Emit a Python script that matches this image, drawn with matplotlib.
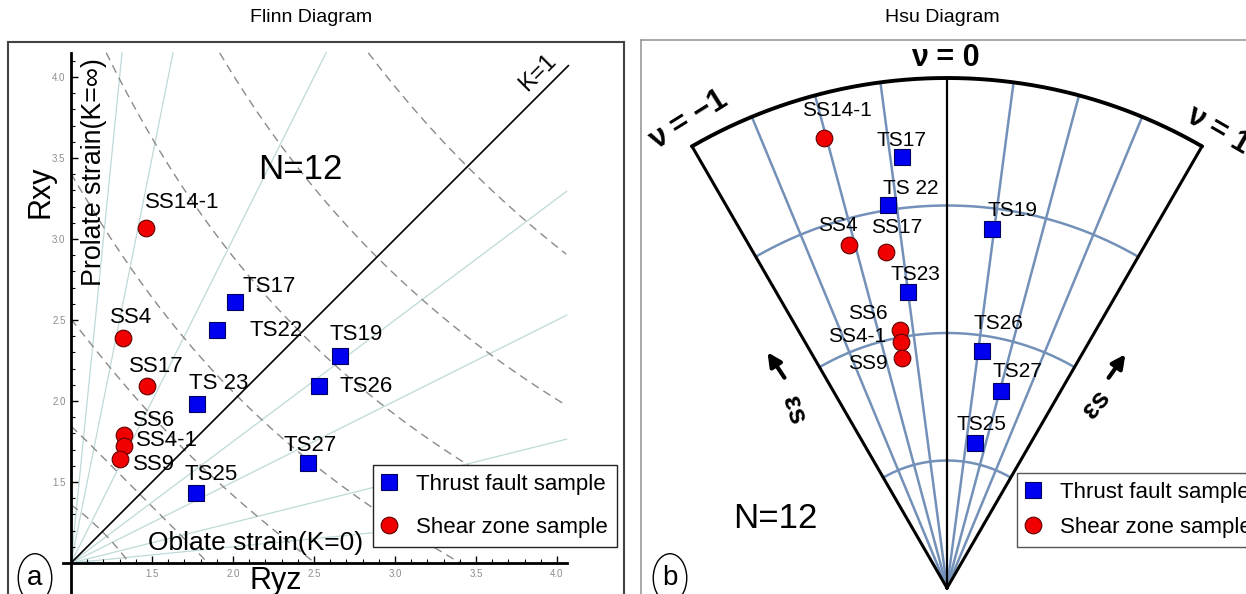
import numpy as np
import matplotlib
matplotlib.use('Agg')
import matplotlib.pyplot as plt
from matplotlib.ticker import FixedLocator

plt.rcParams['font.family'] = ['Liberation Sans', 'DejaVu Sans']

W, H = 1246, 594

# ---- Flinn diagram data (Ryz, Rxy) ----
thrust_names = ['TS17', 'TS22', 'TS 23', 'TS19', 'TS26', 'TS27', 'TS25']
thrust_ryz = [2.01, 1.90, 1.78, 2.66, 2.53, 2.46, 1.77]
thrust_rxy = [2.61, 2.44, 1.98, 2.28, 2.09, 1.62, 1.43]
shear_names = ['SS14-1', 'SS4', 'SS17', 'SS6', 'SS4-1', 'SS9']
shear_ryz = [1.46, 1.32, 1.47, 1.33, 1.33, 1.30]
shear_rxy = [3.07, 2.39, 2.09, 1.79, 1.72, 1.64]

# ---- Hsu diagram data (Lode nu, natural octahedral strain eps_s) ----
hsu_thrust_names = ['TS17', 'TS 22', 'TS23', 'TS19', 'TS26', 'TS27', 'TS25']
hsu_thrust_nu = [-0.20, -0.29, -0.25, 0.24, 0.28, 0.51, 0.36]
hsu_thrust_es = [1.70, 1.52, 1.17, 1.42, 0.94, 0.80, 0.58]
hsu_shear_names = ['SS14-1', 'SS4', 'SS17', 'SS6', 'SS4-1', 'SS9']
hsu_shear_nu = [-0.51, -0.53, -0.34, -0.34, -0.35, -0.37]
hsu_shear_es = [1.83, 1.40, 1.34, 1.03, 0.98, 0.92]

# reference grids
k_lines = [0.1, 0.25, 0.5, 0.75, 2, 5, 10]
es_contours = [0.25, 0.5, 0.75, 1.0, 1.25, 1.5, 1.75]
flinn_xmax, flinn_ymax = 4.06, 4.15
nu_lines = [-0.75, -0.5, -0.25, 0.25, 0.5, 0.75]
es_arcs = [0.5, 1.0, 1.5]
es_max = 2.0
major_ticks = [1.5, 2.0, 2.5, 3.0, 3.5, 4.0]
x_minor = [1.1, 1.2, 1.3, 1.4, 1.6, 1.7, 1.8, 1.9, 2.1, 2.2, 2.3, 2.4, 2.6, 2.7,
           2.8, 2.9, 3.1, 3.2, 3.3, 3.4, 3.6, 3.7, 3.8, 3.9]
y_minor = x_minor + [4.1]

# label offsets in pixels (dx, dy) from the marker
flinn_thrust_off = [(8, 16), (33, -1), (-8, 21), (-10, 21), (21, 0), (-24, 17), (-11, 19)]
flinn_shear_off = [(-1, 25), (-13, 20), (-18, 20), (9, 15), (12, 6), (13, -5)]
hsu_thrust_off = [(-25, 16), (-5, 16), (-18, 18), (-5, 18), (-9, 27), (-8, 20), (-18, 18)]
hsu_shear_off = [(-22, 27), (-31, 19), (-15, 24), (-13, 16), (-15, 6), (-14, -6)]
hsu_shear_ha = ['left', 'left', 'left', 'right', 'right', 'right']

blue, blue_edge = '#0000f0', '#000060'
red, red_edge = '#f00000', '#600000'


def fx(px):
    return px / W


def fy(py):
    return 1 - py / H


fig = plt.figure(figsize=(W / 100, H / 100), dpi=100)

# ================= Flinn diagram =================
ox, oy, sc = 71, 563, 162.0   # pixel of (1,1) and px per unit
rect = [fx(8), fy(600), fx(624) - fx(8), fy(42) - fy(600)]
frame = fig.add_axes(rect)
frame.set_xticks([])
frame.set_yticks([])
for s in frame.spines.values():
    s.set_color('#444444')
    s.set_linewidth(1.5)

ax = fig.add_axes(rect)
ax.patch.set_alpha(0)
ax.set_xlim(1 + (8 - ox) / sc, 1 + (624 - ox) / sc)
ax.set_ylim(1 - (600 - oy) / sc, 1 + (oy - 42) / sc)
ax.spines['top'].set_visible(False)
ax.spines['right'].set_visible(False)
ax.spines['left'].set_position(('data', 1))
ax.spines['bottom'].set_position(('data', 1))
ax.spines['left'].set_bounds(0.7, flinn_ymax)
ax.spines['bottom'].set_bounds(0.95, flinn_xmax)
for s in ('left', 'bottom'):
    ax.spines[s].set_linewidth(2)
ax.set_xticks(major_ticks)
ax.set_yticks(major_ticks)
ax.xaxis.set_minor_locator(FixedLocator(x_minor))
ax.yaxis.set_minor_locator(FixedLocator(y_minor))
ax.tick_params(which='major', direction='in', length=5, width=1,
               labelsize=7, labelcolor='#8c8c8c', pad=4)
ax.tick_params(which='minor', direction='in', length=3, width=0.8)

for k in k_lines:
    x_end = min(flinn_xmax, 1 + (flinn_ymax - 1) / k)
    ax.plot([1, x_end], [1, 1 + k * (x_end - 1)], color='#bfd9d9', lw=0.9, zorder=1)

for es in es_contours:
    c = 1.5 * es ** 2
    b = np.linspace(0, np.sqrt(4 * c / 3), 3000)
    a = (-b + np.sqrt(np.clip(4 * c - 3 * b ** 2, 0, None))) / 2
    ryz, rxy = np.exp(b), np.exp(a)
    ok = (a >= 0) & (ryz <= flinn_xmax) & (rxy <= flinn_ymax)
    ax.plot(np.where(ok, ryz, np.nan), np.where(ok, rxy, np.nan),
            color='#8a8a8a', lw=1.0, dashes=(6, 4), zorder=1)

ax.plot([1, 4.07], [1, 4.07], color='k', lw=1.2, zorder=2)

h_thrust, = ax.plot(thrust_ryz, thrust_rxy, 's', ms=12, mfc=blue, mec=blue_edge,
                    mew=0.8, ls='none', zorder=5, label='Thrust fault sample')
h_shear, = ax.plot(shear_ryz, shear_rxy, 'o', ms=12, mfc=red, mec=red_edge,
                   mew=0.8, ls='none', zorder=5, label='Shear zone sample')

for name, x, y, off in zip(thrust_names, thrust_ryz, thrust_rxy, flinn_thrust_off):
    ax.annotate(name, (x, y), xytext=off, textcoords='offset pixels',
                ha='left', va='center', fontsize=16, zorder=6)
for name, x, y, off in zip(shear_names, shear_ryz, shear_rxy, flinn_shear_off):
    ax.annotate(name, (x, y), xytext=off, textcoords='offset pixels',
                ha='left', va='center', fontsize=16, zorder=6)

leg = ax.legend(handles=[h_thrust, h_shear], loc='upper left',
                bbox_to_anchor=(fx(373), fy(465)), bbox_transform=fig.transFigure,
                borderaxespad=0, fontsize=16, fancybox=False, framealpha=1,
                edgecolor='#222222', handlelength=0.6, handletextpad=0.95,
                labelspacing=0.98, borderpad=0.4)
leg.get_frame().set_linewidth(1.0)
leg.set_zorder(7)

fig.text(fx(311), fy(18), 'Flinn Diagram', ha='center', va='center', fontsize=14)
fig.text(fx(300), fy(170), 'N=12', ha='center', va='center', fontsize=25)
fig.text(fx(94), fy(172), 'Prolate strain(K=\u221e)', ha='center', va='center',
         rotation=90, fontsize=19.3)
fig.text(fx(41), fy(192), 'Rxy', ha='center', va='center', rotation=90, fontsize=22)
fig.text(fx(276), fy(589), 'Ryz', ha='center', va='baseline', fontsize=22)
fig.text(fx(148), fy(543), 'Oblate strain(K=0)', ha='left', va='center', fontsize=19)
fig.text(fx(538), fy(73), 'K=1', ha='center', va='center', rotation=45, fontsize=17)
fig.text(fx(35), fy(578), 'a', ha='center', va='center', fontsize=20,
         bbox=dict(boxstyle='ellipse,pad=0.15', fc='white', ec='k', lw=1))

# ================= Hsu diagram =================
cx, cy, hs = 947, 588, 255.0   # apex pixel, px per eps unit
rect2 = [fx(641), fy(600), fx(1320) - fx(641), fy(40) - fy(600)]
hx = fig.add_axes(rect2)
hx.set_xlim((641 - cx) / hs, (1320 - cx) / hs)
hx.set_ylim((cy - 600) / hs, (cy - 40) / hs)
hx.set_xticks([])
hx.set_yticks([])
for s in hx.spines.values():
    s.set_color('#999999')
    s.set_linewidth(1.2)


def polar(nu, es):
    th = np.radians(np.asarray(nu, dtype=float) * 30.0)
    es = np.asarray(es, dtype=float)
    return es * np.sin(th), es * np.cos(th)


line_blue = '#7391b8'
for nu in nu_lines:
    x, y = polar([nu, nu], [0, es_max])
    hx.plot(x, y, color=line_blue, lw=1.8, zorder=1)
t = np.linspace(-1, 1, 300)
for r in es_arcs:
    x, y = polar(t, np.full_like(t, r))
    hx.plot(x, y, color=line_blue, lw=1.8, zorder=1)
x, y = polar([-1, -1], [0, es_max])
hx.plot(x, y, color='k', lw=2.2, zorder=2)
x, y = polar([1, 1], [0, es_max])
hx.plot(x, y, color='k', lw=2.2, zorder=2)
x, y = polar([0, 0], [0, es_max])
hx.plot(x, y, color='k', lw=1.6, zorder=2)
x, y = polar(t, np.full_like(t, es_max))
hx.plot(x, y, color='k', lw=2.8, zorder=2, solid_capstyle='round')

tx, ty = polar(hsu_thrust_nu, hsu_thrust_es)
sx, sy = polar(hsu_shear_nu, hsu_shear_es)
g_thrust, = hx.plot(tx, ty, 's', ms=12, mfc=blue, mec=blue_edge, mew=0.8,
                    ls='none', zorder=5, label='Thrust fault sample')
g_shear, = hx.plot(sx, sy, 'o', ms=12, mfc=red, mec=red_edge, mew=0.8,
                   ls='none', zorder=5, label='Shear zone sample')
for name, x, y, off in zip(hsu_thrust_names, tx, ty, hsu_thrust_off):
    hx.annotate(name, (x, y), xytext=off, textcoords='offset pixels',
                ha='left', va='center', fontsize=15, zorder=6)
for name, x, y, off, ha in zip(hsu_shear_names, sx, sy, hsu_shear_off, hsu_shear_ha):
    hx.annotate(name, (x, y), xytext=off, textcoords='offset pixels',
                ha=ha, va='center', fontsize=15, zorder=6)

leg2 = hx.legend(handles=[g_thrust, g_shear], loc='upper left',
                 bbox_to_anchor=(fx(1017), fy(473)), bbox_transform=fig.transFigure,
                 borderaxespad=0, fontsize=16, fancybox=False, framealpha=1,
                 edgecolor='#555555', handlelength=0.6, handletextpad=0.95,
                 labelspacing=0.62, borderpad=0.4)
leg2.get_frame().set_linewidth(1.0)
leg2.set_zorder(7)

fig.text(fx(942), fy(18), 'Hsu Diagram', ha='center', va='center', fontsize=14)
fig.text(fx(945), fy(58), '\u03bd = 0', ha='center', va='center', fontsize=22,
         fontweight='bold')
fig.text(fx(688), fy(120), '\u03bd = \u22121', ha='center', va='center', fontsize=22,
         fontweight='bold', rotation=32)
fig.text(fx(1218), fy(130), '\u03bd = 1', ha='center', va='center', fontsize=22,
         fontweight='bold', rotation=-30)
fig.text(fx(793), fy(410), '\u03b5s', ha='center', va='center', fontsize=20,
         fontweight='bold', rotation=-72)
fig.text(fx(1097), fy(405), '\u03b5s', ha='center', va='center', fontsize=20,
         fontweight='bold', rotation=50)
arrow = dict(arrowstyle='-|>', lw=3, color='k', mutation_scale=20)
hx.annotate('', xy=(766, H - 350), xytext=(786, H - 380), xycoords='figure pixels',
            textcoords='figure pixels', arrowprops=arrow)
hx.annotate('', xy=(1127, H - 352), xytext=(1107, H - 380), xycoords='figure pixels',
            textcoords='figure pixels', arrowprops=arrow)
fig.text(fx(775), fy(519), 'N=12', ha='center', va='center', fontsize=25)
fig.text(fx(670), fy(578), 'b', ha='center', va='center', fontsize=20,
         bbox=dict(boxstyle='ellipse,pad=0.15', fc='white', ec='k', lw=1))

fig.savefig('out.png', dpi=100)
